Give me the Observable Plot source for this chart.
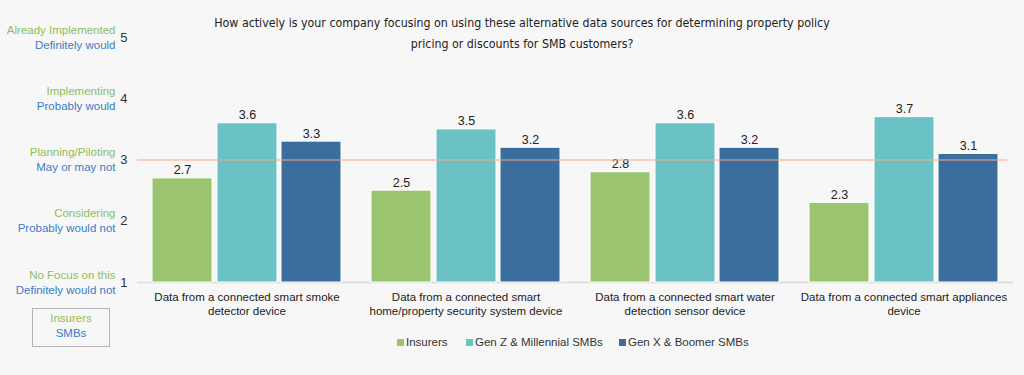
<!DOCTYPE html>
<html>
<head>
<meta charset="utf-8">
<script src="https://cdn.jsdelivr.net/npm/d3@7"></script>
<script src="https://cdn.jsdelivr.net/npm/@observablehq/plot@0.6"></script>
<style>
  html, body { margin: 0; padding: 0; background: #f7f7f7; }
  body { width: 1024px; height: 375px; position: relative; overflow: hidden; font-family: "Liberation Sans", Arial, sans-serif; }
  #title { position: absolute; left: 0; width: 1044px; top: 13px; text-align: center; font-family: "DejaVu Sans Condensed", "Liberation Sans", sans-serif; font-stretch: condensed; font-size: 12.3px; line-height: 21px; color: #222; }
  #chart { position: absolute; left: 0; top: 0; }
  .leg { position: absolute; top: 336px; font-size: 11.5px; color: #333; white-space: nowrap; }
  .leg i { display: inline-block; width: 7px; height: 7px; margin-right: 2px; vertical-align: 0px; }
  #box { position: absolute; left: 32px; top: 308px; width: 76px; height: 35px; border: 1px solid #b5b5b5; text-align: center; font-size: 11.5px; line-height: 15px; padding-top: 2px; box-sizing: content-box; }
</style>
</head>
<body>
<div id="chart"></div>
<div id="title"></div>
<div id="legend"></div>
<div id="box"></div>
<script>
const categories = ["smoke", "security", "water", "appliances"];
const categoryLabels = [
  "Data from a connected smart smoke\ndetector device",
  "Data from a connected smart\nhome/property security system device",
  "Data from a connected smart water\ndetection sensor device",
  "Data from a connected smart appliances\ndevice"
];
const seriesNames = ["Insurers", "Gen Z & Millennial SMBs", "Gen X & Boomer SMBs"];
const seriesColors = ["#9BC471", "#6AC2C5", "#3B6E9D"];
const insurers = [2.7, 2.5, 2.8, 2.3];
const genZMillennial = [3.6, 3.5, 3.6, 3.7];
const genXBoomer = [3.3, 3.2, 3.2, 3.1];
const yTicks = [1, 2, 3, 4, 5];
const insurerLevels = ["No Focus on this", "Considering", "Planning/Piloting", "Implementing", "Already Implemented"];
const smbLevels = ["Definitely would not", "Probably would not", "May or may not", "Probably would", "Definitely would"];
const referenceValue = 3;
const titleLines = ["How actively is your company focusing on using these alternative data sources for determining property policy", "pricing or discounts for SMB customers?"];

const green = "#8DBE5C", blue = "#3A7CC6";

const seriesValues = [insurers, genZMillennial, genXBoomer];
const rows = seriesValues.map(vals => vals.map((v, i) => ({cat: categories[i], v})));
const insets = [[15, 144], [80, 79], [144, 15]];
const offsets = [-64.5, 0.5, 64.5];
const levels = yTicks.map((t, i) => ({t, ins: insurerLevels[i], smb: smbLevels[i]}));

const marks = [];
rows.forEach((r, s) => {
  marks.push(Plot.barY(r, {x: "cat", y1: 1, y2: "v", fill: seriesColors[s], stroke: "#ffffff", strokeWidth: 1, insetLeft: insets[s][0], insetRight: insets[s][1]}));
  marks.push(Plot.text(r, {x: "cat", y: "v", text: d => d.v.toFixed(1), dx: offsets[s], dy: -4, lineAnchor: "bottom", fontSize: 12.5, fill: "#222"}));
});

const plot = Plot.plot({
  width: 1024,
  height: 375,
  marginTop: 37,
  marginBottom: 93,
  marginLeft: 137,
  marginRight: 11,
  style: {background: "transparent", fontFamily: "'Liberation Sans', Arial, sans-serif"},
  x: {domain: categories, padding: 0, axis: null},
  y: {domain: [1, 5], axis: null},
  marks: [
    Plot.ruleY([1], {stroke: "#d9d9d9", strokeWidth: 1.5}),
    ...marks,
    Plot.ruleY([referenceValue], {stroke: "#F5A88C", strokeWidth: 1.2, insetRight: 6}),
    Plot.axisY({ticks: yTicks, tickSize: 0, tickPadding: 10, fontSize: 13, label: null, tickFormat: d => String(d), fill: "#333"}),
    Plot.text(levels, {y: "t", text: "ins", frameAnchor: "left", dx: -22, dy: -7.5, textAnchor: "end", fill: green, fontSize: 11.5}),
    Plot.text(levels, {y: "t", text: "smb", frameAnchor: "left", dx: -22, dy: 7.5, textAnchor: "end", fill: blue, fontSize: 11.5}),
    Plot.axisX({tickSize: 0, tickPadding: 9, fontSize: 11.5, lineHeight: 1.2, label: null, fill: "#222", tickFormat: d => categoryLabels[categories.indexOf(d)]})
  ]
});
document.getElementById("chart").appendChild(plot);

document.getElementById("title").innerHTML = titleLines.join("<br>");

const legLefts = [397, 466, 619];
const legend = document.getElementById("legend");
seriesNames.forEach((n, i) => {
  const d = document.createElement("div");
  d.className = "leg";
  d.style.left = legLefts[i] + "px";
  d.innerHTML = `<i style="background:${seriesColors[i]}"></i>${n}`;
  legend.appendChild(d);
});

document.getElementById("box").innerHTML = `<span style="color:${green}">Insurers</span><br><span style="color:${blue}">SMBs</span>`;
</script>
</body>
</html>
